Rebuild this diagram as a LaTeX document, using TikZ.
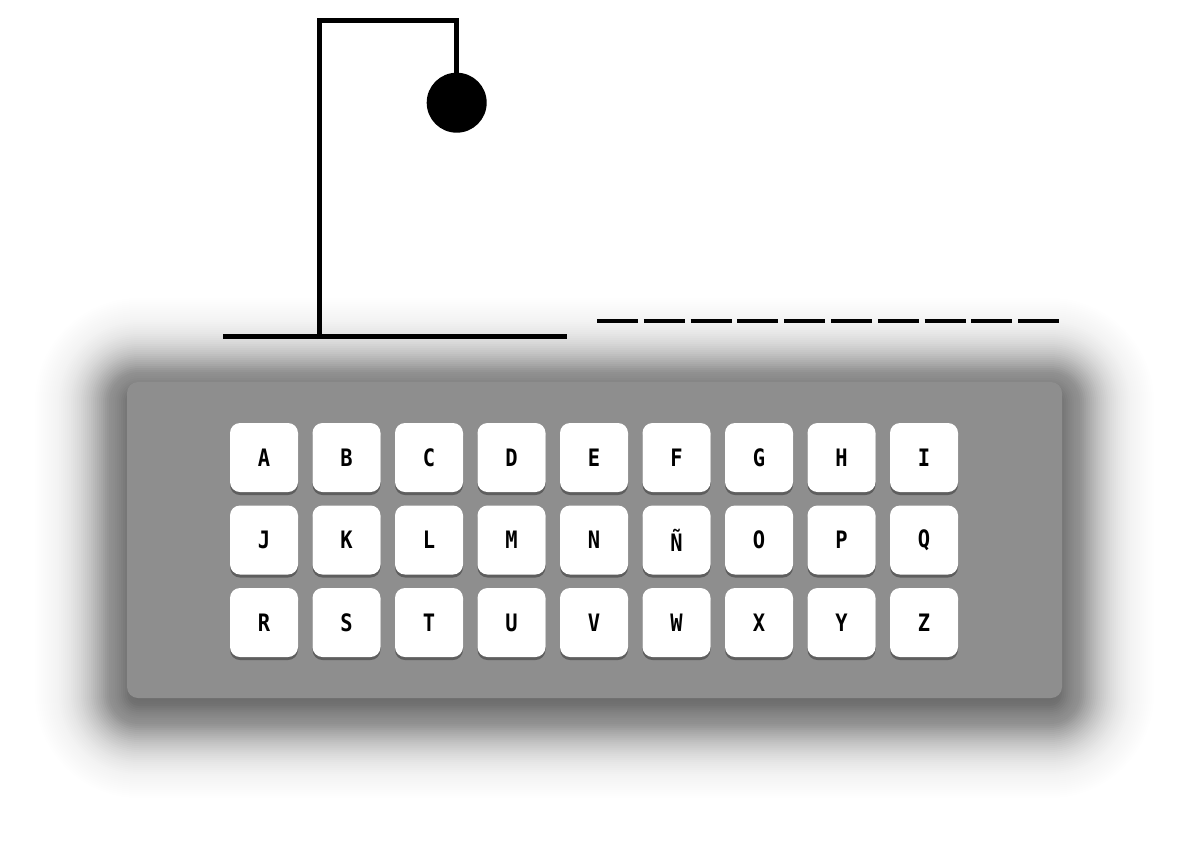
\documentclass[tikz,border=0pt]{standalone}
\usepackage{fontspec}
\setmonofont[FakeStretch=0.85]{DejaVu Sans Mono}
\definecolor{panelgray}{HTML}{8E8E8E}
\definecolor{keyshade}{HTML}{5E5E5E}
\tikzset{
  gallows/.style={line width=5pt, line cap=butt, line join=miter},
  slot/.style={line width=4pt},
  panel/.style={fill=panelgray, rounded corners=11pt},
  keycap/.style={fill=white, rounded corners=10pt, minimum width=68pt, minimum height=69pt, inner sep=0pt,
    font=\ttfamily\bfseries\fontsize{24}{24}\selectfont, text=black},
  keyshadow/.style={fill=keyshade, rounded corners=10pt},
}
\begin{document}
\begin{tikzpicture}[x=1pt,y=-1pt]
\useasboundingbox[fill=white] (0,0) rectangle (1203,868);
% soft shadow under the panel (layered)
\foreach \e in {-30,-28,...,140} {
  \pgfmathsetmacro{\ta}{0.6/(1+exp((\e-27)/20))}
  \pgfmathsetmacro{\tb}{0.6/(1+exp((\e+2-27)/20))}
  \pgfmathsetmacro{\al}{1-(1-\ta)/(1-\tb)}
  \pgfmathsetmacro{\rc}{max(12+\e,0.5)}
  \fill[black, fill opacity=\al, rounded corners=\rc pt] (127-\e,390-\e) rectangle (1062+\e,706+\e);
}
% gallows
\coordinate (g1) at (223.3,336.7);
\coordinate (g2) at (566.7,336.7);
\coordinate (p0) at (319,339);
\coordinate (p1) at (319,20.5);
\coordinate (p2) at (456.7,20.5);
\node[circle, fill=black, minimum size=60pt, inner sep=0pt] (head) at (456.7,102.7) {};
\draw[gallows] (g1) -- (g2);
\draw[gallows] (p0) -- (p1) -- (p2) -- (head.north);
% word slots
\foreach \i in {0,...,9} {
  \coordinate (s\i a) at ({597+46.8*\i},320.7);
  \coordinate (s\i b) at ({597+46.8*\i+41},320.7);
  \draw[slot] (s\i a) -- (s\i b);
}
% panel
\path[panel] (127,382) rectangle (1062,698);
% keys
\foreach \r/\row in {0/{A,B,C,D,E,F,G,H,I},1/{J,K,L,M,N,Ñ,O,P,Q},2/{R,S,T,U,V,W,X,Y,Z}} {
  \foreach \k [count=\c from 0] in \row {
    \pgfmathsetmacro{\kx}{264+82.5*\c}
    \pgfmathsetmacro{\ky}{457.5+82.5*\r}
    \fill[keyshadow] (\kx-34,\ky-34.5+3) rectangle (\kx+34,\ky+34.5+3);
    \node[keycap] (key-\r-\c) at (\kx,\ky) {\k};
  }
}
\end{tikzpicture}
\end{document}
